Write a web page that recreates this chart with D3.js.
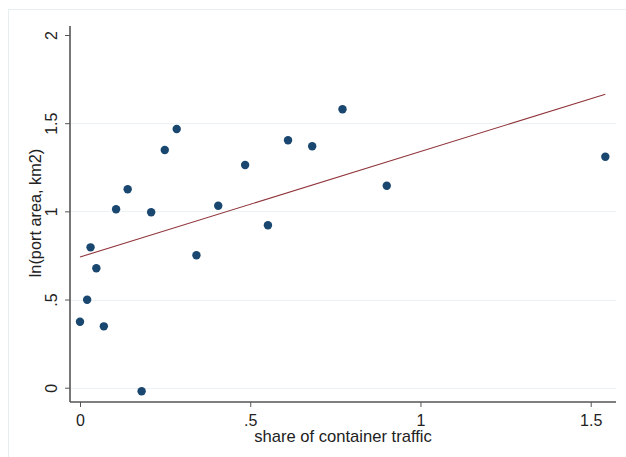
<!DOCTYPE html>
<html><head><meta charset="utf-8">
<script src="https://cdn.jsdelivr.net/npm/d3@7"></script>
<style>body{margin:0;background:#fff}svg{display:block}text{font-family:"Liberation Sans",Arial,sans-serif}</style>
</head><body><svg id="c" width="626" height="457"></svg>
<script>
const shareX = [0.000,0.021,0.031,0.048,0.070,0.106,0.140,0.181,0.209,0.249,0.284,0.342,0.406,0.485,0.552,0.611,0.682,0.771,0.901,1.543];
const lnArea = [0.374,0.499,0.796,0.677,0.348,1.012,1.125,-0.020,0.995,1.348,1.467,0.751,1.032,1.263,0.921,1.403,1.369,1.579,1.145,1.310];
const fitX = [0.000,1.543];
const fitY = [0.741,1.664];
const xTicks = [0,0.5,1,1.5];
const xTickLabels = ["0",".5","1","1.5"];
const yTicks = [0,0.5,1,1.5,2];
const yTickLabels = ["0",".5","1","1.5","2"];
const gridY = [0,0.5,1,1.5];

const svg = d3.select("#c");
const L=70, R=616, T=26, B=402;
const x = d3.scaleLinear().domain([0,1.5]).range([80,590.7]);
const y = d3.scaleLinear().domain([0,2]).range([387.7,35]);

svg.append("rect").attr("x",8.5).attr("y",9.5).attr("width",640).attr("height",460)
  .attr("fill","#fff").attr("stroke","#e6eef0").attr("stroke-width",1);

svg.append("g").selectAll("line").data(gridY).join("line")
  .attr("x1",L).attr("x2",R).attr("y1",d=>Math.round(y(d))+0.5).attr("y2",d=>Math.round(y(d))+0.5)
  .attr("stroke","#eaf2f3").attr("stroke-width",1.2);

// axes
const yAxis = d3.axisLeft(y).tickValues(yTicks).tickFormat((d,i)=>yTickLabels[i]).tickSize(5).tickSizeOuter(0);
const gy = svg.append("g").attr("transform",`translate(${L},0)`).call(yAxis);
gy.select(".domain").attr("d",`M0,${T}V${B}`).attr("stroke","#555").attr("stroke-width",1.6);
gy.selectAll(".tick line").attr("stroke","#555");
gy.selectAll(".tick text").attr("x",0).attr("dy",null).attr("text-anchor","middle")
  .attr("dominant-baseline","central").attr("font-size",16).attr("fill","#222")
  .attr("transform",function(d){return `translate(-19,0) rotate(-90)`;});

const xAxis = d3.axisBottom(x).tickValues(xTicks).tickFormat((d,i)=>xTickLabels[i]).tickSize(5).tickSizeOuter(0);
const gx = svg.append("g").attr("transform",`translate(0,${B})`).call(xAxis);
gx.select(".domain").attr("d",`M${L},0H${R}`).attr("stroke","#555").attr("stroke-width",1.6);
gx.selectAll(".tick line").attr("stroke","#555");
gx.selectAll(".tick text").attr("y",24).attr("dy",null).attr("font-size",16).attr("fill","#222");

// fit line
svg.append("path").datum(fitX.map((v,i)=>[v,fitY[i]]))
  .attr("d",d3.line().x(d=>x(d[0])).y(d=>y(d[1])))
  .attr("fill","none").attr("stroke","#90353b").attr("stroke-width",1.1);

// points
svg.append("g").selectAll("circle").data(shareX.map((v,i)=>[v,lnArea[i]])).join("circle")
  .attr("cx",d=>x(d[0])).attr("cy",d=>y(d[1])).attr("r",4.2).attr("fill","#1a476f");

svg.append("text").attr("x",(L+R)/2).attr("y",441.5).attr("text-anchor","middle")
  .attr("font-size",16.6).attr("fill","#222").text("share of container traffic");
svg.append("text").attr("transform",`translate(35,${(T+B)/2 - 1}) rotate(-90)`).attr("text-anchor","middle")
  .attr("dominant-baseline","central").attr("font-size",16.3).attr("fill","#222").text("ln(port area, km2)");
</script></body></html>
